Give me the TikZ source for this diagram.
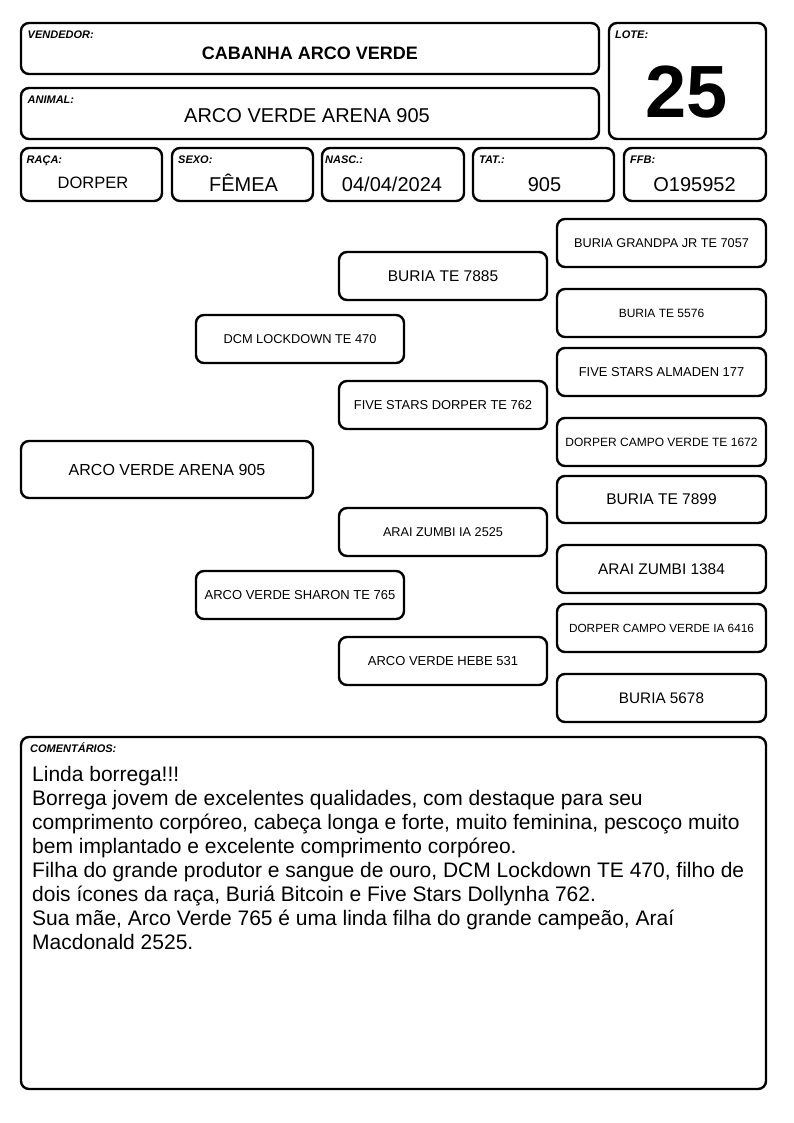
\documentclass[tikz,border=0pt]{standalone}
\usepackage{fontspec}
\setmainfont{Liberation Sans}
\newcommand{\fsz}[1]{\fontsize{#1}{#1}\selectfont}
\tikzset{
  box/.style={draw=black, line width=2.4pt, rounded corners=8pt, inner sep=0pt, fill=white},
  lab/.style={anchor=base west, inner sep=0pt, font=\fsz{11}\bfseries\itshape},
  val/.style={anchor=base, inner sep=0pt},
  ped/.style={box, align=center},
}
\begin{document}
\begin{tikzpicture}[x=1pt,y=-1pt]
\useasboundingbox (0,0) rectangle (794,1123);
% header boxes
\node[box, minimum width=578, minimum height=51] (vend) at (310,48.5) {};
\node[box, minimum width=578, minimum height=51] (anim) at (310,113.5) {};
\node[box, minimum width=157, minimum height=116] (lote) at (687.5,81) {};
\node[box, minimum width=141, minimum height=53] (raca) at (91.5,174.5) {};
\node[box, minimum width=141, minimum height=53] (sexo) at (242.5,174.5) {};
\node[box, minimum width=142, minimum height=53] (nasc) at (393,174.5) {};
\node[box, minimum width=141, minimum height=53] (tat) at (543.5,174.5) {};
\node[box, minimum width=142, minimum height=53] (ffb) at (695,174.5) {};
% labels
\node[lab] (vendl) at (27.5,39) {VENDEDOR:};
\node[lab] (animl) at (27.5,103.5) {ANIMAL:};
\node[lab] (lotel) at (615,39) {LOTE:};
\node[lab] (racal) at (26.5,163.5) {RAÇA:};
\node[lab] (sexol) at (178,163.5) {SEXO:};
\node[lab] (nascl) at (325,163.5) {NASC.:};
\node[lab] (tatl) at (479,163.5) {TAT.:};
\node[lab] (ffbl) at (630,163.5) {FFB:};
% values
\node[val, font=\fsz{18}\bfseries] (vendv) at (310,59.5) {CABANHA ARCO VERDE};
\node[val, font=\fsz{20}] (animv) at (307,123) {ARCO VERDE ARENA 905};
\node[val, font=\fsz{74}\bfseries] (lotev) at (687,118) {25};
\node[val, font=\fsz{16.5}] (racav) at (93,188.5) {DORPER};
\node[val, font=\fsz{20}] (sexov) at (243.5,192) {FÊMEA};
\node[val, font=\fsz{20}] (nascv) at (392,192) {04/04/2024};
\node[val, font=\fsz{20}] (tatv) at (544.5,192) {905};
\node[val, font=\fsz{20}] (ffbv) at (694.5,192) {O195952};
% pedigree
\node[ped, minimum width=292, minimum height=57, font=\fsz{16}] (p0) at (167,469.5) {ARCO VERDE ARENA 905};
\node[ped, minimum width=208, minimum height=48, font=\fsz{12.8}] (s) at (300,339) {DCM LOCKDOWN TE 470};
\node[ped, minimum width=208, minimum height=48, font=\fsz{13}] (d) at (300,595) {ARCO VERDE SHARON TE 765};
\node[ped, minimum width=208, minimum height=48, font=\fsz{15.5}] (ss) at (443,276) {BURIA TE 7885};
\node[ped, minimum width=208, minimum height=48, font=\fsz{12.9}] (sd) at (443,405) {FIVE STARS DORPER TE 762};
\node[ped, minimum width=208, minimum height=48, font=\fsz{12.7}] (ds) at (443,532) {ARAI ZUMBI IA 2525};
\node[ped, minimum width=208, minimum height=48, font=\fsz{13}] (dd) at (443,661) {ARCO VERDE HEBE 531};
\node[ped, minimum width=209, minimum height=48, font=\fsz{12.7}] (sss) at (661.5,243) {BURIA GRANDPA JR TE 7057};
\node[ped, minimum width=209, minimum height=48, font=\fsz{12}] (ssd) at (661.5,313) {BURIA TE 5576};
\node[ped, minimum width=209, minimum height=48, font=\fsz{12.9}] (sds) at (661.5,372) {FIVE STARS ALMADEN 177};
\node[ped, minimum width=209, minimum height=48, font=\fsz{12}] (sdd) at (661.5,442) {DORPER CAMPO VERDE TE 1672};
\node[ped, minimum width=209, minimum height=47, font=\fsz{15.5}] (dss) at (661.5,499.5) {BURIA TE 7899};
\node[ped, minimum width=209, minimum height=48, font=\fsz{15.4}] (dsd) at (661.5,569) {ARAI ZUMBI 1384};
\node[ped, minimum width=209, minimum height=48, font=\fsz{11.8}] (dds) at (661.5,628) {DORPER CAMPO VERDE IA 6416};
\node[ped, minimum width=209, minimum height=48, font=\fsz{15.3}] (ddd) at (661.5,698) {BURIA 5678};
% comments
\node[box, minimum width=745, minimum height=352] (com) at (393.5,913) {};
\node[lab] (coml) at (30,752.5) {COMENTÁRIOS:};
\node[anchor=north west, inner sep=0pt, align=left, font=\fontsize{21}{24}\selectfont] (comt) at (32,766) {Linda borrega!!!\\
Borrega jovem de excelentes qualidades, com destaque para seu\\
comprimento corpóreo, cabeça longa e forte, muito feminina, pescoço muito\\
bem implantado e excelente comprimento corpóreo.\\
Filha do grande produtor e sangue de ouro, DCM Lockdown TE 470, filho de\\
dois ícones da raça, Buriá Bitcoin e Five Stars Dollynha 762.\\
Sua mãe, Arco Verde 765 é uma linda filha do grande campeão, Araí\\
Macdonald 2525.};
\end{tikzpicture}
\end{document}
